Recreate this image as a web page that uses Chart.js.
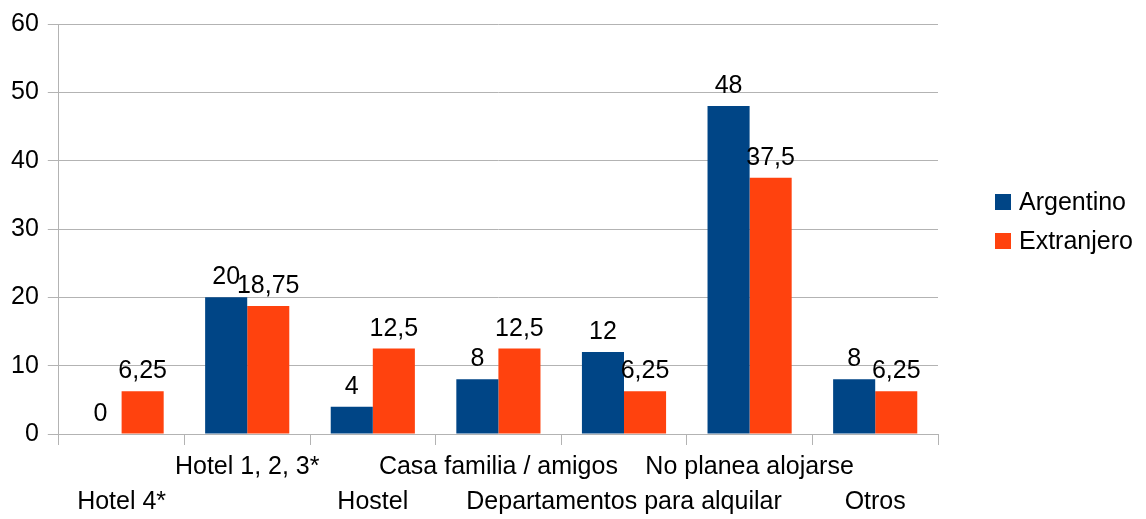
<!DOCTYPE html>
<html>
<head>
<meta charset="utf-8">
<script src="https://cdn.jsdelivr.net/npm/chart.js@4/dist/chart.umd.min.js"></script>
<style>
  html, body { margin: 0; padding: 0; background: #ffffff; }
  #wrap { width: 1146px; height: 519px; }
</style>
</head>
<body>
<div id="wrap"><canvas id="chart"></canvas></div>
<script>
// Categories and series
const categories = ['Hotel 4*', 'Hotel 1, 2, 3*', 'Hostel', 'Casa familia / amigos',
  'Departamentos para alquilar', 'No planea alojarse', 'Otros'];
const argentino = [0, 20, 4, 8, 12, 48, 8];
const extranjero = [6.25, 18.75, 12.5, 12.5, 6.25, 37.5, 6.25];
const yTicks = [0, 10, 20, 30, 40, 50, 60];

const FONT = '"Liberation Sans", Arial, sans-serif';
const FONT_SIZE = 25;
const colors = { argentino: '#004586', extranjero: '#ff420e', grid: '#b3b3b3' };

// staggered labels: even index on the lower line, odd on the upper line
const labels = categories.map((c, i) => i % 2 === 0 ? ['', c] : [c, '']);

// value labels above each bar, decimals with comma
const valueLabels = {
  id: 'valueLabels',
  afterDatasetsDraw(chart) {
    const ctx = chart.ctx;
    ctx.save();
    ctx.font = FONT_SIZE + 'px ' + FONT;
    ctx.fillStyle = '#000';
    ctx.textAlign = 'center';
    ctx.textBaseline = 'alphabetic';
    chart.data.datasets.forEach((ds, di) => {
      chart.getDatasetMeta(di).data.forEach((bar, i) => {
        const txt = String(ds.data[i]).replace('.', ',');
        ctx.fillText(txt, bar.x, bar.y - 13);
      });
    });
    ctx.restore();
  }
};

// legend on the right, drawn by hand
const sideLegend = {
  id: 'sideLegend',
  afterDraw(chart) {
    const ctx = chart.ctx;
    ctx.save();
    ctx.font = FONT_SIZE + 'px ' + FONT;
    ctx.textBaseline = 'middle';
    ctx.textAlign = 'left';
    chart.data.datasets.forEach((ds, i) => {
      const y = 202 + i * 39;
      ctx.fillStyle = ds.backgroundColor;
      ctx.fillRect(995, y - 8, 16, 16);
      ctx.fillStyle = '#000';
      ctx.fillText(ds.label, 1019, y + 1);
    });
    ctx.restore();
  }
};

new Chart(document.getElementById('chart'), {
  type: 'bar',
  data: {
    labels: labels,
    datasets: [
      { label: 'Argentino', data: argentino, backgroundColor: colors.argentino },
      { label: 'Extranjero', data: extranjero, backgroundColor: colors.extranjero }
    ]
  },
  options: {
    responsive: true,
    maintainAspectRatio: false,
    animation: false,
    layout: { padding: { left: 2, right: 208, top: 5, bottom: -6 } },
    datasets: { bar: { categoryPercentage: 0.67, barPercentage: 1.0 } },
    scales: {
      x: {
        grid: { color: colors.grid, offset: true, tickLength: 11, drawOnChartArea: false },
        border: { color: colors.grid },
        ticks: {
          color: '#000', font: { family: FONT, size: FONT_SIZE, lineHeight: 1.4 },
          maxRotation: 0, autoSkip: false, padding: 5
        }
      },
      y: {
        min: 0, max: 60,
        afterBuildTicks(axis) { axis.ticks = yTicks.map(v => ({ value: v })); },
        grid: { color: colors.grid, tickLength: 11 },
        border: { color: colors.grid },
        ticks: { color: '#000', font: { family: FONT, size: FONT_SIZE }, padding: 9 }
      }
    },
    plugins: {
      legend: { display: false },
      tooltip: { enabled: false }
    }
  },
  plugins: [valueLabels, sideLegend]
});
</script>
</body>
</html>
